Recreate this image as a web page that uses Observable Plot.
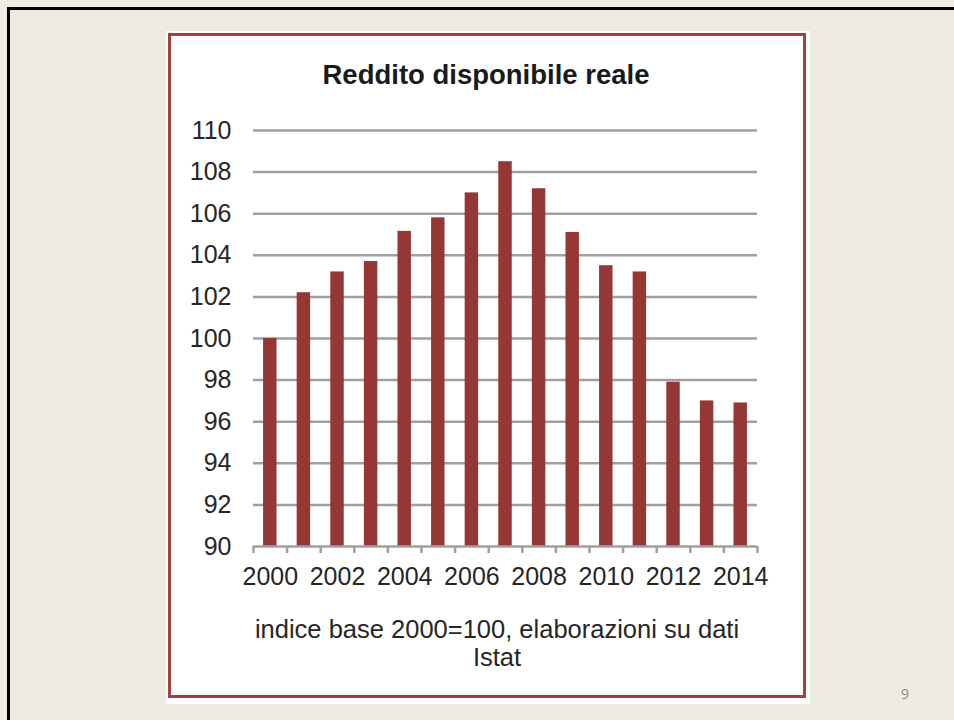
<!DOCTYPE html>
<html>
<head>
<meta charset="utf-8">
<script src="https://cdn.jsdelivr.net/npm/d3@7"></script>
<script src="https://cdn.jsdelivr.net/npm/@observablehq/plot@0.6"></script>
<style>
  html, body { margin: 0; padding: 0; }
  body { width: 954px; height: 720px; background: #eeebe0; position: relative; overflow: hidden;
         font-family: "Liberation Sans", Arial, sans-serif; }
  .abs { position: absolute; }
  #chart svg { overflow: visible; }
</style>
</head>
<body>
<div class="abs" style="left:7px;top:7px;right:0;height:3px;background:#000"></div>
<div class="abs" style="left:7px;top:7px;bottom:0;width:3px;background:#000"></div>
<div class="abs" style="left:166px;top:31px;width:644px;height:673px;background:#fff"></div>
<div class="abs" style="left:168px;top:33px;width:638px;height:665px;box-sizing:border-box;border:3px solid #a3413f"></div>
<div id="title" class="abs" style="left:186px;top:59px;width:600px;text-align:center;font-weight:bold;font-size:27.5px;line-height:32px;color:#1a1a1a">Reddito disponibile reale</div>
<div id="chart" class="abs" style="left:166px;top:110px"></div>
<div id="caption" class="abs" style="left:197px;top:615px;width:600px;text-align:center;font-size:25.5px;line-height:28px;color:#262626">indice base 2000=100, elaborazioni su dati<br>Istat</div>
<div id="page" class="abs" style="left:890px;top:684px;width:30px;text-align:center;font-family:'Open Sans','Noto Sans',sans-serif;font-size:14px;color:#8c8c8c">9</div>
<script>
const years = [2000, 2001, 2002, 2003, 2004, 2005, 2006, 2007, 2008, 2009, 2010, 2011, 2012, 2013, 2014];
const values = [100.0, 102.2, 103.2, 103.7, 105.15, 105.8, 107.0, 108.5, 107.2, 105.1, 103.5, 103.2, 97.9, 97.0, 96.9];
const yTicks = [90, 92, 94, 96, 98, 100, 102, 104, 106, 108, 110];
const xTickLabels = [2000, 2002, 2004, 2006, 2008, 2010, 2012, 2014];

const data = years.map((year, i) => ({year, value: values[i]}));
const boundaries = [...years.map(y => y - 0.5), years[years.length - 1] + 0.5];
const gridColor = "#a0a0a0";

const chart = Plot.plot({
  width: 644,
  height: 481,
  marginLeft: 87,
  marginRight: 53,
  marginTop: 20,
  marginBottom: 45,
  x: {type: "linear", domain: [boundaries[0], boundaries[boundaries.length - 1]], label: null},
  y: {domain: [yTicks[0], yTicks[yTicks.length - 1]], label: null},
  style: {fontFamily: "'Liberation Sans', Arial, sans-serif", fontSize: "25px", color: "#262626", background: "transparent", overflow: "visible"},
  marks: [
    Plot.ruleY(yTicks.slice(1), {stroke: gridColor, strokeWidth: 2.5}),
    Plot.rectY(data, {x1: d => d.year - 0.2, x2: d => d.year + 0.2, y1: yTicks[0], y2: "value", fill: "#953735"}),
    Plot.ruleY([yTicks[0]], {stroke: gridColor, strokeWidth: 2.5}),
    Plot.axisX(boundaries, {tickSize: 7, tickFormat: () => "", stroke: gridColor, strokeWidth: 2.5, label: null}),
    Plot.axisX(xTickLabels, {tickSize: 0, tickPadding: 21, tickFormat: d => String(d), fontSize: 25, label: null}),
    Plot.axisY(yTicks, {tickSize: 0, tickPadding: 22, tickFormat: d => String(d), fontSize: 25, label: null})
  ]
});
document.getElementById("chart").appendChild(chart);
</script>
</body>
</html>
